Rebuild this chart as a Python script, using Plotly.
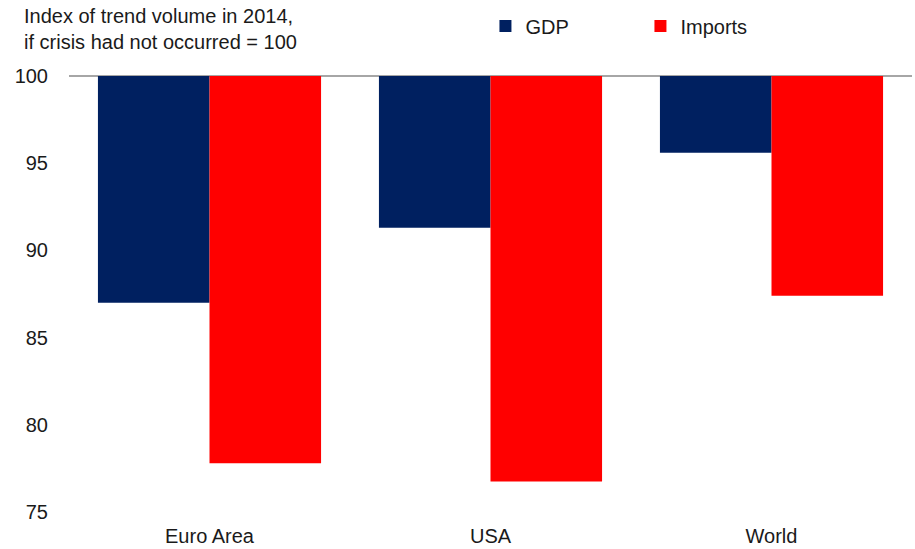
import plotly.graph_objects as go

categories = ["Euro Area", "USA", "World"]
gdp = [87.0, 91.3, 95.6]
imports = [77.8, 76.75, 87.4]
baseline = 100
y_ticks = [75, 80, 85, 90, 95, 100]

FONT = "Liberation Sans, Arial, sans-serif"

fig = go.Figure()
fig.add_trace(go.Bar(
    name="GDP", x=categories, y=[v - baseline for v in gdp], base=baseline,
    marker=dict(color="#002060", line=dict(width=0)),
    customdata=gdp, hovertemplate="%{x}: %{customdata}<extra>GDP</extra>",
))
fig.add_trace(go.Bar(
    name="Imports", x=categories, y=[v - baseline for v in imports], base=baseline,
    marker=dict(color="#FF0000", line=dict(width=0)),
    customdata=imports, hovertemplate="%{x}: %{customdata}<extra>Imports</extra>",
))

fig.update_layout(
    width=915, height=549,
    margin=dict(l=69, r=3, t=76, b=37),
    paper_bgcolor="white", plot_bgcolor="white",
    barmode="group", bargap=0.206, bargroupgap=0,
    font=dict(family=FONT, size=20, color="#1a1a1a"),
    showlegend=True,
    legend=dict(orientation="h", x=0.494, y=1.0 + (76 - 26) / 436, xanchor="left", yanchor="middle",
                font=dict(size=20), entrywidth=110, entrywidthmode="pixels",
                bgcolor="rgba(0,0,0,0)", traceorder="normal"),
    xaxis=dict(showline=False, showgrid=False, ticks="", tickfont=dict(size=20),
               ticklabelstandoff=10),
    yaxis=dict(range=[75, 100], tickvals=y_ticks, showgrid=False, zeroline=False,
               showline=False, ticks="", ticklabelstandoff=20, tickfont=dict(size=20)),
    shapes=[dict(type="line", xref="paper", yref="y domain", x0=0, x1=1, y0=1, y1=1,
                 line=dict(color="#A6A6A6", width=2), layer="below")],
    annotations=[dict(
        text="Index of trend volume in 2014,<br>if crisis had not occurred = 100",
        xref="paper", yref="paper", x=(22 - 69) / 843, y=1 + (76 - 3) / 436,
        xanchor="left", yanchor="top", align="left", showarrow=False,
        font=dict(size=20, color="#1a1a1a"),
    )],
)

fig.write_html("out.html")
